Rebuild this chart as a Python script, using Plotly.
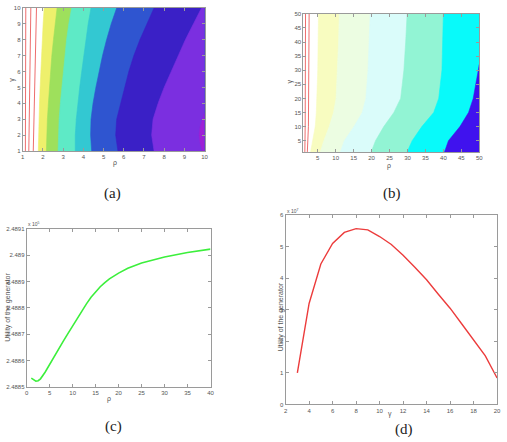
import plotly.graph_objects as go

W, H = 507, 442

# ---------------- (a) contour bands ----------------
a_y = [1, 2, 3, 4, 5, 6, 7, 8, 9, 10]
a_bounds = [
    [1.77, 1.78, 1.80, 1.83, 1.86, 1.89, 1.93, 1.97, 2.01, 2.06],
    [2.17, 2.18, 2.22, 2.27, 2.32, 2.38, 2.44, 2.52, 2.60, 2.70],
    [2.75, 2.76, 2.80, 2.86, 2.93, 3.00, 3.08, 3.17, 3.28, 3.42],
    [3.60, 3.60, 3.65, 3.72, 3.82, 3.92, 4.02, 4.12, 4.24, 4.38],
    [4.41, 4.36, 4.38, 4.48, 4.62, 4.78, 4.95, 5.15, 5.38, 5.65],
    [5.71, 5.60, 5.65, 5.85, 6.05, 6.25, 6.50, 6.80, 7.15, 7.50],
    [7.50, 7.38, 7.45, 7.70, 8.00, 8.35, 8.70, 9.05, 9.45, 9.85],
]
a_colors = ["#eef06c", "#9ee05c", "#5eeac6", "#33c8d2", "#2f55d0", "#3a20c6", "#7b2fe0"]
a_mag_x = [10, 9.9, 9.78, 9.73, 9.78, 9.9, 10]
a_mag_y = [1, 1.0, 1.5, 2.0, 2.5, 3.0, 3.4]
a_mag_color = "#9e1fd6"
a_red_y = [1, 5, 10]
a_red = [[1.13, 1.14, 1.15], [1.30, 1.34, 1.40], [1.52, 1.60, 1.68]]

# ---------------- (b) contour bands ----------------
b_y = [1, 5, 10, 15, 20, 30, 40, 50]
b_bounds = [
    [3.0, 3.6, 4.3, 4.6, 4.8, 5.0, 5.1, 5.2],
    [5.7, 6.7, 8.2, 9.4, 10.1, 10.5, 10.8, 11.0],
    [11.3, 12.4, 15.1, 17.4, 18.4, 19.0, 19.3, 19.6],
    [19.9, 21.1, 23.4, 26.2, 28.1, 29.0, 29.5, 29.9],
    [29.9, 31.3, 34.0, 37.3, 38.7, 39.6, 39.8, 40.0],
]
b_colors = ["#f8fcc0", "#ecfde2", "#dafcfa", "#92f4d4", "#08fafa"]
b_blue_y = [1, 5, 10, 15, 20, 30, 32]
b_blue_x = [40.3, 41.4, 44.6, 47.0, 48.3, 49.7, 50]
b_blue_color = "#4012ee"
b_red_y = [1, 10, 50]
b_red = [[1.4, 1.5, 1.6], [2.1, 2.4, 2.6]]

# ---------------- (c) line ----------------
c_x = [1, 1.5, 2, 2.5, 3, 4, 5, 6, 7, 8, 9, 10, 11, 12, 13, 14, 15, 16, 17, 18, 20, 22, 25, 28, 30, 35, 40]
c_y = [2.4885325, 2.488525, 2.488521, 2.488523, 2.48853, 2.488555, 2.488586, 2.488616,
       2.488645, 2.488674, 2.488703, 2.488732, 2.48876, 2.488788, 2.488815, 2.48884,
       2.488862, 2.48888, 2.488896, 2.48891, 2.488932, 2.48895, 2.48897, 2.488985,
       2.488993, 2.48901, 2.489023]
c_yticks = [2.4885, 2.4886, 2.4887, 2.4888, 2.4889, 2.489, 2.4891]
c_yticktext = ["2.4885", "2.4886", "2.4887", "2.4888", "2.4889", "2.489", "2.4891"]

# ---------------- (d) line ----------------
d_x = [3, 4, 5, 6, 7, 8, 9, 10, 11, 12, 13, 14, 15, 16, 17, 18, 19, 20]
d_y = [1.0, 3.2, 4.45, 5.1, 5.45, 5.57, 5.53, 5.32, 5.07, 4.73, 4.35, 3.95, 3.49, 3.05,
       2.55, 2.06, 1.54, 0.84]

captions = ["(a)", "(b)", "(c)", "(d)"]

fig = go.Figure()

def px_x(p):
    return p / W

def px_y(p):
    return 1 - p / H

# plot-area positions in pixels
dom = {
    "a": ((21, 205), (5, 150)),
    "b": ((305, 483), (11, 151)),
    "c": ((25, 211), (229, 389)),
    "d": ((287, 501), (215, 407)),
}
axmap = {"a": ("x", "y"), "b": ("x2", "y2"), "c": ("x3", "y3"), "d": ("x4", "y4")}

def band(xs, ys, xmax, color, xa, ya):
    px = list(xs) + [xmax, xmax]
    py = list(ys) + [ys[-1], ys[0]]
    fig.add_trace(go.Scatter(x=px, y=py, fill="toself", fillcolor=color, mode="lines",
                             line=dict(width=0.6, color=color), hoverinfo="skip",
                             showlegend=False, xaxis=xa, yaxis=ya))

# (a)
xa, ya = axmap["a"]
for bx, col in zip(a_bounds, a_colors):
    band(bx, a_y, 10, col, xa, ya)
fig.add_trace(go.Scatter(x=a_mag_x, y=a_mag_y, fill="toself", fillcolor=a_mag_color, mode="lines",
                         line=dict(width=0.5, color=a_mag_color), showlegend=False, xaxis=xa, yaxis=ya))
for rx in a_red:
    fig.add_trace(go.Scatter(x=rx, y=a_red_y, mode="lines", line=dict(color="#e84848", width=0.8),
                             showlegend=False, xaxis=xa, yaxis=ya))

# (b)
xa, ya = axmap["b"]
for bx, col in zip(b_bounds, b_colors):
    band(bx, b_y, 50, col, xa, ya)
fig.add_trace(go.Scatter(x=b_blue_x + [50], y=b_blue_y + [1], fill="toself", fillcolor=b_blue_color,
                         mode="lines", line=dict(width=0.5, color=b_blue_color), showlegend=False,
                         xaxis=xa, yaxis=ya))
for rx in b_red:
    fig.add_trace(go.Scatter(x=rx, y=b_red_y, mode="lines", line=dict(color="#e84848", width=0.8),
                             showlegend=False, xaxis=xa, yaxis=ya))

# (c)
xa, ya = axmap["c"]
fig.add_trace(go.Scatter(x=c_x, y=c_y, mode="lines", line=dict(color="#3cef3c", width=1.6),
                         showlegend=False, xaxis=xa, yaxis=ya))
# (d)
xa, ya = axmap["d"]
fig.add_trace(go.Scatter(x=d_x, y=d_y, mode="lines", line=dict(color="#ec3c3c", width=1.4),
                         showlegend=False, xaxis=xa, yaxis=ya))

tickfont = dict(family="Liberation Sans, Arial", size=6, color="#555555")
common = dict(showgrid=False, zeroline=False, showline=True, linecolor="#9a9a9a", linewidth=1,
              mirror="ticks", ticks="inside", ticklen=3, tickcolor="#9a9a9a", tickfont=tickfont)

ranges = {
    "a": ([1, 10], list(range(1, 11)), [1, 10], list(range(1, 11))),
    "b": ([1, 50], list(range(5, 51, 5)), [1, 50], list(range(5, 51, 5))),
    "c": ([0, 40], list(range(0, 41, 5)), [2.4885, 2.4891], c_yticks),
    "d": ([2, 20], list(range(2, 21, 2)), [0, 6], list(range(0, 7))),
}
layout_axes = {}
for i, k in enumerate(["a", "b", "c", "d"]):
    (x0, x1), (y0, y1) = dom[k]
    xr, xt, yr, yt = ranges[k]
    sx = "xaxis" if i == 0 else f"xaxis{i+1}"
    sy = "yaxis" if i == 0 else f"yaxis{i+1}"
    anchor_y = "y" if i == 0 else f"y{i+1}"
    anchor_x = "x" if i == 0 else f"x{i+1}"
    layout_axes[sx] = dict(domain=[px_x(x0), px_x(x1)], range=xr, tickvals=xt, anchor=anchor_y, **common)
    ydict = dict(domain=[px_y(y1), px_y(y0)], range=yr, tickvals=yt, anchor=anchor_x, **common)
    if k == "c":
        ydict["ticktext"] = c_yticktext
    layout_axes[sy] = ydict

fig.update_layout(width=W, height=H, margin=dict(l=0, r=0, t=0, b=0),
                  paper_bgcolor="white", plot_bgcolor="white", **layout_axes)

def ann(text, x, y, size=7, angle=0, family="Liberation Sans, Arial", color="#555555"):
    fig.add_annotation(text=text, x=px_x(x), y=px_y(y), xref="paper", yref="paper",
                       showarrow=False, textangle=angle, font=dict(family=family, size=size, color=color),
                       xanchor="center", yanchor="middle")

ann("ρ", 114, 162)
ann("γ", 10, 78, angle=-90)
ann("ρ", 392, 165)
ann("γ", 291, 80, angle=-90)
ann("ρ", 108, 401)
ann("Utility of the generator", 6, 308, angle=-90)
ann("γ", 393, 417)
ann("Utility of the generator", 282, 318, angle=-90)
ann("x 10<sup>5</sup>", 32, 224, size=5)
ann("x 10<sup>7</sup>", 294, 211, size=5)

cap_pos = [(112, 193), (395, 193), (113, 429), (407, 432)]
for t, (x, y) in zip(captions, cap_pos):
    ann(t, x, y, size=15, family="Liberation Serif, Times New Roman", color="#222222")

fig.write_html("out.html")
